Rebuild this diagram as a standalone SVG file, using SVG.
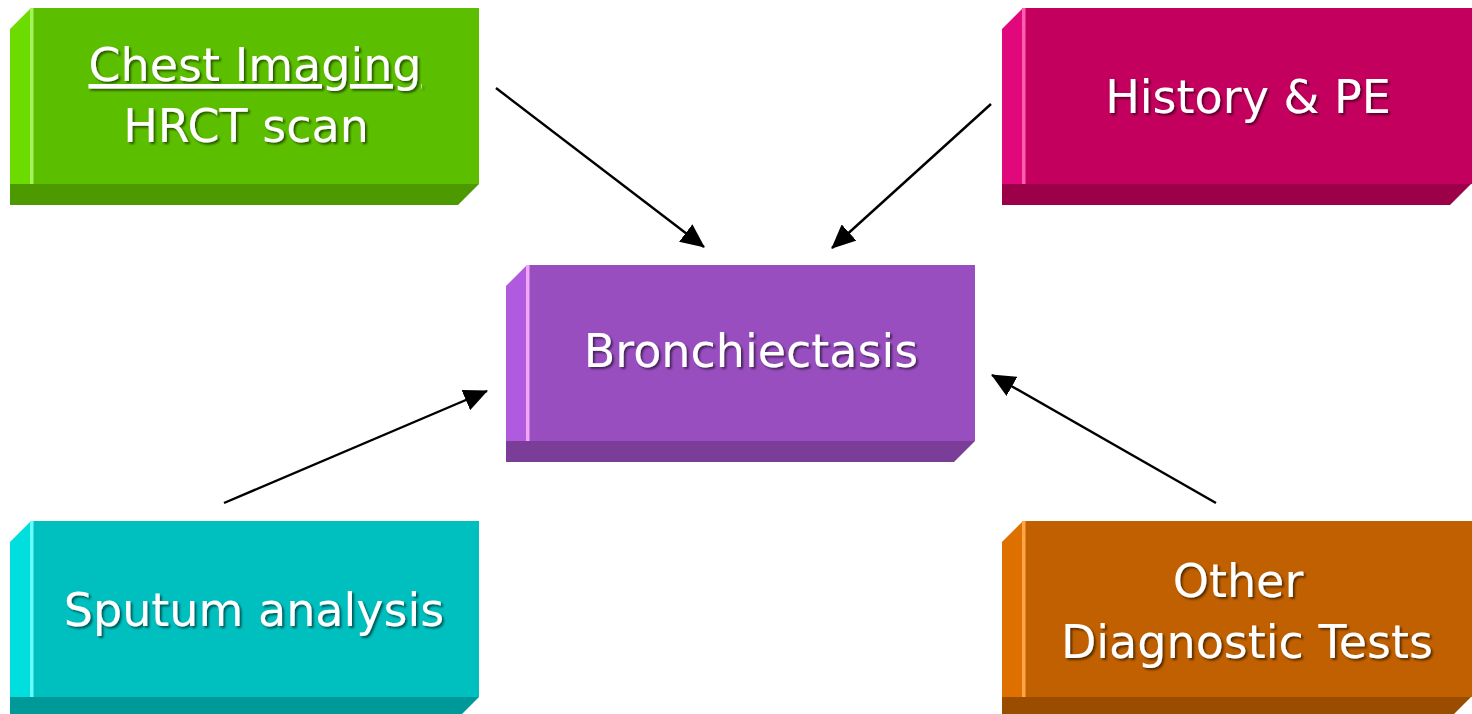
<svg xmlns="http://www.w3.org/2000/svg" width="1472" height="714" viewBox="0 0 1472 714">
  <defs>
    <marker id="arrow" viewBox="0 0 24 22" refX="23" refY="11" markerWidth="24" markerHeight="22" markerUnits="userSpaceOnUse" orient="auto">
      <path d="M0,0 L24,11 L0,22 z" fill="#000"/>
    </marker>
    <filter id="shadow" filterUnits="userSpaceOnUse" x="0" y="0" width="1472" height="714">
      <feDropShadow dx="2" dy="2" stdDeviation="1.2" flood-color="#000" flood-opacity="0.55"/>
    </filter>
  </defs>
  <style>
    .lbl { font-family: "DejaVu Sans", Verdana, sans-serif; font-size: 46px; fill: #fff; text-anchor: middle; }
    .ul { text-decoration: underline; text-decoration-skip-ink: none; }
    .txt { filter: url(#shadow); }
    .conn { stroke: #000; stroke-width: 2.4; fill: none; marker-end: url(#arrow); }
    .green .face { fill: #5BBF00; } .green .left { fill: #6BDB00; } .green .bottom { fill: #4C9900; } .green .hl { fill: #A6F25A; }
    .pink .face { fill: #C4005E; } .pink .left { fill: #E0087A; } .pink .bottom { fill: #9B0049; } .pink .hl { fill: #FF5EAE; }
    .purple .face { fill: #994EC0; } .purple .left { fill: #B05BDF; } .purple .bottom { fill: #7A3E98; } .purple .hl { fill: #F2A6FF; }
    .teal .face { fill: #00BFBF; } .teal .left { fill: #00DEDE; } .teal .bottom { fill: #009999; } .teal .hl { fill: #66FFFF; }
    .orange .face { fill: #C06000; } .orange .left { fill: #DE7000; } .orange .bottom { fill: #9A4C00; } .orange .hl { fill: #FFA547; }
  </style>

  <g id="chest-imaging" class="green">
    <rect class="face" x="31" y="8" width="448" height="176"/>
    <polygon class="left" points="10,29 31,8 31,184 10,184"/>
    <polygon class="bottom" points="10,184 479,184 458,205 10,205"/>
    <rect class="hl" x="30" y="8" width="3.5" height="176"/>
    <g class="txt">
      <text class="lbl ul" x="255" y="81">Chest Imaging</text>
      <text class="lbl" x="246" y="142">HRCT scan</text>
    </g>
  </g>

  <g id="history-pe" class="pink">
    <rect class="face" x="1023" y="8" width="449" height="176"/>
    <polygon class="left" points="1002,29 1023,8 1023,184 1002,184"/>
    <polygon class="bottom" points="1002,184 1471,184 1450,205 1002,205"/>
    <rect class="hl" x="1022" y="8" width="3.5" height="176"/>
    <g class="txt"><text class="lbl" x="1248" y="113">History &amp; PE</text></g>
  </g>

  <g id="bronchiectasis" class="purple">
    <rect class="face" x="527" y="265" width="448" height="176"/>
    <polygon class="left" points="506,286 527,265 527,441 506,441"/>
    <polygon class="bottom" points="506,441 975,441 954,462 506,462"/>
    <rect class="hl" x="526" y="265" width="3.5" height="176"/>
    <g class="txt"><text class="lbl" x="751" y="367">Bronchiectasis</text></g>
  </g>

  <g id="sputum-analysis" class="teal">
    <rect class="face" x="31" y="521" width="448" height="176"/>
    <polygon class="left" points="10,542 31,521 31,697 10,697"/>
    <polygon class="bottom" points="10,697 479,697 458,718 10,718"/>
    <rect class="hl" x="30" y="521" width="3.5" height="176"/>
    <g class="txt"><text class="lbl" x="254" y="626">Sputum analysis</text></g>
  </g>

  <g id="other-tests" class="orange">
    <rect class="face" x="1023" y="521" width="449" height="176"/>
    <polygon class="left" points="1002,542 1023,521 1023,697 1002,697"/>
    <polygon class="bottom" points="1002,697 1471,697 1450,718 1002,718"/>
    <rect class="hl" x="1022" y="521" width="3.5" height="176"/>
    <g class="txt">
      <text class="lbl" x="1238" y="597">Other</text>
      <text class="lbl" x="1247" y="658">Diagnostic Tests</text>
    </g>
  </g>

  <g id="connectors">
    <line class="conn" x1="496" y1="88" x2="704" y2="247"/>
    <line class="conn" x1="991" y1="104" x2="832" y2="248"/>
    <line class="conn" x1="224" y1="503" x2="487" y2="391"/>
    <line class="conn" x1="1216" y1="503" x2="992" y2="375"/>
  </g>
</svg>
